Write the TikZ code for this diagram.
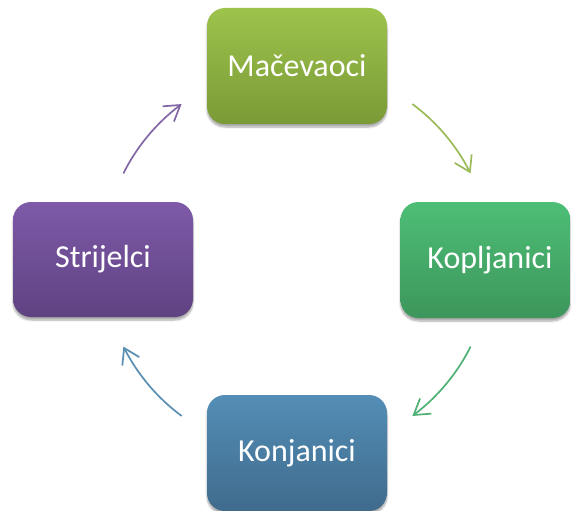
\documentclass[tikz,border=0pt]{standalone}
\usepackage{fontspec}
\setmainfont{Carlito}
\usetikzlibrary{arrows.meta,bending,shadows.blur}
\definecolor{gTop}{HTML}{9DC34C}
\definecolor{gBot}{HTML}{7A9A36}
\definecolor{kTop}{HTML}{4DBE76}
\definecolor{kBot}{HTML}{3D965C}
\definecolor{bTop}{HTML}{548EB6}
\definecolor{bBot}{HTML}{3F6B8D}
\definecolor{pTop}{HTML}{7E5AA8}
\definecolor{pBot}{HTML}{5F4282}
\definecolor{aG}{HTML}{9BBB59}
\definecolor{aK}{HTML}{4EB073}
\definecolor{aB}{HTML}{5A8DB2}
\definecolor{aP}{HTML}{8166A6}
\tikzset{
  box/.style={rectangle, rounded corners=18pt, minimum width=180pt, minimum height=116pt,
    inner sep=0pt, text=white, font=\fontsize{32}{37}\selectfont,
    blur shadow={shadow xshift=0pt, shadow yshift=-3pt, shadow blur steps=6, shadow opacity=35}},
  cyc/.style={line width=1.7pt, -{Straight Barb[length=15pt,width=19pt,flex]}}
}
\begin{document}
\begin{tikzpicture}[x=1pt,y=1pt]
\useasboundingbox (0,0) rectangle (571,-511);
\node[box, top color=gTop, bottom color=gBot] (mac) at (297,-66) {Mačevaoci};
\node[box, top color=kTop, bottom color=kBot, minimum width=170pt] (kop) at (485.5,-260) {\hspace*{9pt}Kopljanici};
\node[box, top color=bTop, bottom color=bBot] (kon) at (297,-453) {Konjanici};
\node[box, top color=pTop, bottom color=pBot, minimum height=115pt] (str) at (103,-259.5) {Strijelci};
\coordinate (c) at (297,-260);
\coordinate (a1) at ([shift={(53.5:194)}]c);
\coordinate (a2) at ([shift={(-26.5:194)}]c);
\coordinate (a3) at ([shift={(-126.5:194)}]c);
\coordinate (a4) at ([shift={(153.5:194)}]c);
\draw[cyc, aG] (a1) arc[start angle=53.5, end angle=26.5, radius=194];
\draw[cyc, aK] (a2) arc[start angle=-26.5, end angle=-53.5, radius=194];
\draw[cyc, aB] (a3) arc[start angle=-126.5, end angle=-153.5, radius=194];
\draw[cyc, aP] (a4) arc[start angle=153.5, end angle=126.5, radius=194];
\end{tikzpicture}
\end{document}
